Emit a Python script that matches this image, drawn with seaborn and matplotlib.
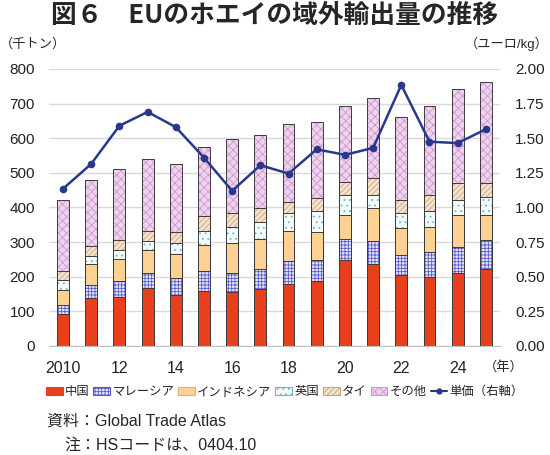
import numpy as np
import pandas as pd
import matplotlib
matplotlib.use('Agg')
import matplotlib.pyplot as plt
from matplotlib.patches import Patch
from matplotlib.lines import Line2D
import seaborn as sns

# データ（千トン、ユーロ/kg）
years = list(range(2010, 2026))
tick_labels = ['2010', '', '12', '', '14', '', '16', '', '18', '', '20', '', '22', '', '24', '']
china = [91, 138, 142, 167, 147, 160, 156, 164, 179, 187, 247, 237, 205, 200, 212, 222]
malaysia = [28, 38, 45, 45, 50, 56, 56, 59, 65, 61, 63, 67, 59, 72, 73, 83]
indonesia = [44, 60, 64, 65, 70, 76, 86, 87, 87, 81, 68, 94, 76, 72, 92, 74]
uk = [27, 23, 26, 27, 30, 41, 46, 47, 54, 60, 58, 39, 45, 46, 44, 51]
thai = [27, 29, 30, 28, 33, 41, 39, 42, 32, 39, 38, 47, 38, 46, 51, 42]
other = [204, 191, 204, 207, 195, 200, 216, 209, 225, 218, 220, 232, 239, 256, 271, 290]
price = [1.135, 1.315, 1.59, 1.69, 1.58, 1.36, 1.12, 1.305, 1.245, 1.42,
         1.38, 1.43, 1.885, 1.475, 1.465, 1.565]

names = ['中国', 'マレーシア', 'インドネシア', '英国', 'タイ', 'その他']
# 塗り色、ハッチ、ハッチ色
styles = {
    '中国': ('#e8401c', None, '#e8401c'),
    'マレーシア': ('#e6e6fa', '+++++', '#5a5ad0'),
    'インドネシア': ('#fcd193', None, '#e8b060'),
    '英国': ('#f4fbfb', '...', '#70b8b8'),
    'タイ': ('#f4e2cc', '//////', '#c8a482'),
    'その他': ('#eed2ee', 'xxxx', '#cc98cc'),
}
navy = '#27398f'

df = pd.DataFrame({'年': years, '中国': china, 'マレーシア': malaysia,
                   'インドネシア': indonesia, '英国': uk, 'タイ': thai, 'その他': other})
cum = df[names].cumsum(axis=1)

sns.set_style('white')
plt.rcParams['font.family'] = ['Liberation Sans', 'Noto Sans CJK JP']
plt.rcParams['hatch.linewidth'] = 0.6

fig = plt.figure(figsize=(5.5, 4.55), dpi=100)
ax = fig.add_axes([0.089, 0.2396, 0.82, 0.6088])

# 積み上げ棒（累積値を上の層から重ねる）
for name in reversed(names):
    face, hatch, hcol = styles[name]
    sns.barplot(x=df['年'], y=cum[name], color=face, hatch=hatch, edgecolor=hcol,
                linewidth=0, width=0.42, errorbar=None, saturation=1, ax=ax)
# 輪郭線
for name in reversed(names):
    sns.barplot(x=df['年'], y=cum[name], fill=False, color='#3c3c3c',
                linewidth=0.7, width=0.42, errorbar=None, saturation=1, ax=ax)

ax.set_xlim(-0.5, len(years) - 0.5)
ax.set_ylim(0, 800)
ax.set_yticks(np.arange(0, 801, 100))
ax.set_xticks(range(len(years)))
ax.set_xticklabels(tick_labels)
ax.set_xlabel('')
ax.set_ylabel('')
ax.yaxis.grid(True, color='#d9d9d9', linewidth=1)
ax.set_axisbelow(True)
for s in ['top', 'right', 'left']:
    ax.spines[s].set_visible(False)
ax.spines['bottom'].set_color('#bfbfbf')
ax.tick_params(axis='y', length=0, pad=10, labelsize=11, labelcolor='#222222')
ax.tick_params(axis='x', length=0, pad=11, labelsize=11.5, labelcolor='#222222')

# 単価（右軸）
ax2 = ax.twinx()
sns.lineplot(x=np.arange(len(years)), y=price, ax=ax2, color=navy, linewidth=1.8,
             marker='o', markersize=5.5, markeredgewidth=0)
ax2.set_ylim(0, 2)
ax2.set_yticks(np.arange(0, 2.01, 0.25))
ax2.set_yticklabels([f'{v:.2f}' for v in np.arange(0, 2.01, 0.25)])
ax2.set_ylabel('')
for s in ['top', 'right', 'left', 'bottom']:
    ax2.spines[s].set_visible(False)
ax2.tick_params(axis='y', length=0, pad=11, labelsize=11, labelcolor='#222222')
ax.set_xlim(-0.5, len(years) - 0.5)

# テキスト
fig.text(0.5, 0.967, '図６　EUのホエイの域外輸出量の推移', ha='center', va='center',
         fontsize=18.5, fontweight='bold', family=['Noto Sans CJK JP'])
fig.text(0.0, 0.903, '（千トン）', ha='left', va='center', fontsize=9.5)
fig.text(0.998, 0.903, '（ユーロ/kg）', ha='right', va='center', fontsize=9.5)
fig.text(0.916, 0.193, '（年）', ha='center', va='center', fontsize=9.5)

handles = []
for name in names:
    face, hatch, hcol = styles[name]
    handles.append(Patch(facecolor=face, hatch=hatch, edgecolor=hcol, linewidth=0.8, label=name))
handles.append(Line2D([0], [0], color=navy, linewidth=1.5, marker='o', markersize=3.5,
                      label='単価（右軸）'))
fig.legend(handles=handles, loc='center', bbox_to_anchor=(0.518, 0.138), ncol=7,
           frameon=False, fontsize=8.9, handlelength=1.35, handleheight=0.65,
           handletextpad=0.2, columnspacing=0.3, borderaxespad=0, borderpad=0)

fig.text(0.085, 0.075, '資料：Global Trade Atlas', ha='left', va='center', fontsize=11.5)
fig.text(0.117, 0.022, '注：HSコードは、0404.10', ha='left', va='center', fontsize=11.5)

fig.savefig('out.png', dpi=100)
